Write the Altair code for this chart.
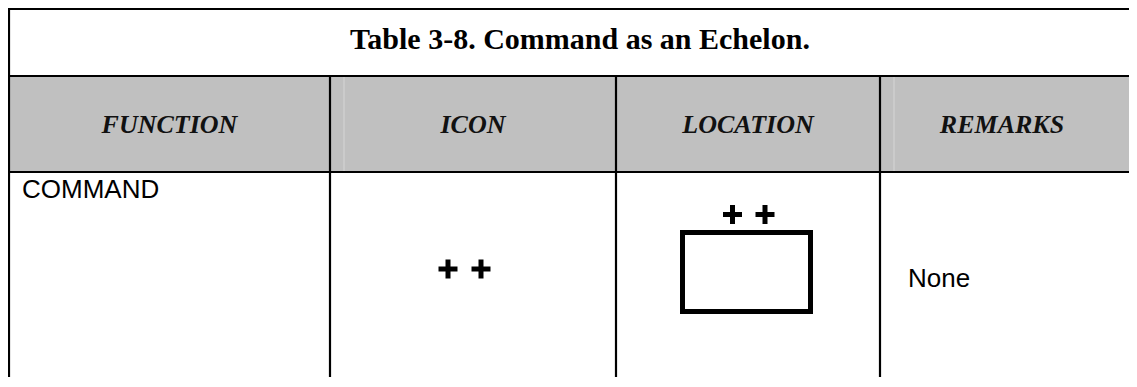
import altair as alt
import pandas as pd

# ---- table content ----
title_text = "Table 3-8.  Command as an Echelon."
headers = ["FUNCTION", "ICON", "LOCATION", "REMARKS"]
row_function = ["COMMAND"]
row_remarks = ["None"]

# ---- layout (pixel geometry of the page) ----
col_edges = [9, 330, 616, 880, 1124]
right_edge = 1129
top_y, title_bottom, header_bottom, bottom_y = 9, 76, 172, 377

X = alt.Scale(domain=[8, 1129], nice=False, zero=False)
Y = alt.Scale(domain=[8, 377], nice=False, zero=False, reverse=True)

def xe(f="x"):
    return alt.X(f"{f}:Q", scale=X, axis=None)

def ye(f="y"):
    return alt.Y(f"{f}:Q", scale=Y, axis=None)

# header gray band
hdr_bg = pd.DataFrame({"x": [col_edges[0]], "x2": [right_edge], "y": [title_bottom], "y2": [header_bottom]})
bg = alt.Chart(hdr_bg).mark_rect(color="#c0c0c0").encode(
    x=xe(), x2="x2:Q", y=ye(), y2="y2:Q")

# faint lines inside header
faint = pd.DataFrame({"x": [344, 894], "x2": [344, 894], "y": [title_bottom, title_bottom], "y2": [header_bottom, header_bottom]})
faint_l = alt.Chart(faint).mark_rule(color="#d6d6d6", strokeWidth=1).encode(
    x=xe(), x2="x2:Q", y=ye(), y2="y2:Q")

# grid lines
lines = []
for yy in [top_y, title_bottom, header_bottom]:
    lines.append({"x": col_edges[0] - 1, "x2": right_edge, "y": yy, "y2": yy})
lines.append({"x": col_edges[0], "x2": col_edges[0], "y": top_y - 1, "y2": bottom_y})
for xx in col_edges[1:4]:
    lines.append({"x": xx, "x2": xx, "y": title_bottom, "y2": bottom_y})
grid = alt.Chart(pd.DataFrame(lines)).mark_rule(color="black", strokeWidth=2.2).encode(
    x=xe(), x2="x2:Q", y=ye(), y2="y2:Q")

# title
title_df = pd.DataFrame({"t": [title_text], "x": [580], "y": [49]})
title = alt.Chart(title_df).mark_text(
    font="Liberation Serif", fontWeight="bold", fontSize=30, align="center",
    baseline="alphabetic", color="black").encode(x=xe(), y=ye(), text="t:N")

# headers
hdf = pd.DataFrame({
    "t": headers,
    "x": [(col_edges[i] + col_edges[i + 1]) / 2 for i in range(4)],
    "y": [133] * 4,
})
htxt = alt.Chart(hdf).mark_text(
    font="Liberation Serif", fontWeight="bold", fontStyle="italic", fontSize=26,
    align="center", baseline="alphabetic", color="#111").encode(x=xe(), y=ye(), text="t:N")

# body text
bdf = pd.DataFrame({"t": [row_function[0], row_remarks[0]], "x": [22, 908], "y": [198, 287]})
btxt = alt.Chart(bdf).mark_text(
    font="Liberation Sans", fontSize=26, align="left", baseline="alphabetic",
    color="black").encode(x=xe(), y=ye(), text="t:N")

# plus signs (icon column and above the location box)
plus_centers = [(448, 269), (481, 269), (732.5, 214.5), (765, 214.5)]
half = 9.5
segs = []
for cx, cy in plus_centers:
    segs.append({"x": cx - half, "x2": cx + half, "y": cy, "y2": cy})
    segs.append({"x": cx, "x2": cx, "y": cy - half, "y2": cy + half})
plus = alt.Chart(pd.DataFrame(segs)).mark_rule(color="black", strokeWidth=5).encode(
    x=xe(), x2="x2:Q", y=ye(), y2="y2:Q")

# location box
box_df = pd.DataFrame({"x": [682.5], "x2": [810.5], "y": [232.5], "y2": [311.5]})
box = alt.Chart(box_df).mark_rect(fill="white", stroke="black", strokeWidth=5).encode(
    x=xe(), x2="x2:Q", y=ye(), y2="y2:Q")

chart = alt.layer(bg, faint_l, grid, title, htxt, btxt, box, plus).properties(
    width=1121, height=369,
    autosize=alt.AutoSizeParams(type="none"),
    padding=0,
).configure_view(stroke=None).configure(background="white")

chart.save("out.html", embed_options={"renderer": "svg", "actions": False})
